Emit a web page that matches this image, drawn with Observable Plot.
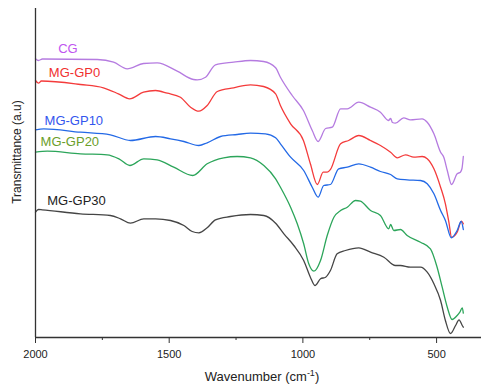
<!DOCTYPE html>
<html>
<head>
<meta charset="utf-8">
<script src="https://cdn.jsdelivr.net/npm/d3@7"></script>
<script src="https://cdn.jsdelivr.net/npm/@observablehq/plot@0.6"></script>
<style>
  html, body { margin: 0; padding: 0; background: #fff; }
  #chart { width: 481px; height: 385px; }
</style>
</head>
<body>
<div id="chart"></div>
<script>
// Spectra: [wavenumber (cm-1), transmittance (a.u., offset)]
const CG = [[2000,278.7],[1989,277],[1974,278.5],[1769,278],[1708,275.3],[1657,268.7],[1596,274],[1545,274.7],[1470,266.3],[1409,258],[1395,257.7],[1364,260.3],[1327,272.7],[1259,275.3],[1196,277],[1147,276],[1102,269.7],[1084,260.3],[1040,242],[998,227],[965,207],[943,196],[915,209],[890,210.3],[859,228.7],[834,228.7],[791,235.3],[747,230.3],[710,225.3],[680,217],[672,219],[665,215],[654,214.3],[623,219.7],[598,217.7],[554,218.7],[535,215.3],[510,203.7],[485,185.3],[473,180.3],[460,167],[444,153],[423,163.7],[411,165.3],[405,169],[400,181]];
const GP0 = [[2000,257],[1989,254.3],[1978,256.5],[1832,253],[1746,249.7],[1690,243.7],[1648,238.7],[1596,245.3],[1551,247],[1507,244.3],[1458,240.3],[1420,230.3],[1389,226.3],[1358,232],[1320,246],[1259,249.7],[1196,252.7],[1147,251],[1102,243.7],[1084,232],[1046,213.7],[998,197],[972,173.7],[946,153],[924,165.3],[909,165.3],[897,168],[859,193.7],[829,197],[791,202],[747,197],[710,192],[672,185.3],[647,179.7],[616,182.7],[585,180.3],[554,181],[535,178.7],[510,168.7],[485,150.3],[467,133.7],[454,115.3],[444,100.3],[423,105.3],[407,116.3],[400,113.7]];
const GP10 = [[2000,207.7],[1969,208.7],[1832,205.3],[1720,202.7],[1645,197],[1551,201],[1495,198.7],[1445,196],[1389,192],[1358,194.7],[1308,201],[1246,203],[1196,204.3],[1140,203.7],[1102,199.7],[1084,193.7],[1046,180.3],[997,167],[965,150.3],[943,140.3],[922,152],[897,153],[866,168.7],[834,170.3],[791,173.7],[747,170.3],[710,166],[672,163],[647,158.7],[610,157.7],[560,157],[535,153.7],[510,143.7],[485,127],[467,117],[445,99.7],[423,107],[408,116],[400,108]];
const GP20 = [[2000,185.3],[1956,186.3],[1832,183.7],[1732,182.7],[1688,178.7],[1647,172],[1595,178.7],[1545,177.7],[1483,170.3],[1412,162],[1358,173.7],[1296,179.7],[1246,181],[1196,179.7],[1146,172],[1102,158.7],[1084,150.3],[1046,130.3],[1021,113.7],[997,93.7],[978,73.7],[959,66.3],[934,77],[909,102],[884,120.3],[859,127],[834,130.3],[803,137],[785,136.3],[747,127],[710,122],[679,108.7],[672,113],[660,107],[635,108],[610,102],[560,95.3],[523,88.7],[498,70.3],[479,50.3],[460,30.3],[442,18],[423,22],[413,25.3],[404,29.7],[400,24.3]];
const GP30 = [[2000,125.3],[1989,128],[1975,127.7],[1832,123.7],[1720,122],[1682,118.7],[1645,114.3],[1595,118.7],[1551,118.7],[1495,117],[1445,112],[1414,106],[1389,104.7],[1358,109.7],[1327,117.7],[1271,121],[1196,123],[1146,122],[1102,114.3],[1071,103.7],[1034,92],[997,77],[972,60.3],[955,52],[934,58.7],[915,60.3],[897,67],[872,83.7],[841,87],[791,89.7],[747,85.3],[697,80.3],[654,72],[635,72],[598,70.3],[560,70.3],[535,65.3],[510,53.7],[485,37],[467,17],[448,4],[429,12],[416,17.7],[404,12],[400,10.3]];

const seriesNames = ["CG", "MG-GP0", "MG-GP10", "MG-GP20", "MG-GP30"];
const seriesData = [CG, GP0, GP10, GP20, GP30];
const lineColors = ["#b57be0", "#f43b3b", "#2369e6", "#2ca55a", "#454545"];
const labelColors = ["#c055f0", "#f03030", "#3355ee", "#6a9e2a", "#222222"];
const labelX = [1915, 1950, 1966, 1981, 1956];
const labelY = [288.7, 264.3, 217, 196, 136.3];

const majorTicks = [2000, 1500, 1000, 500];
const minorTicks = [1750, 1250, 750];
const xTitle = "Wavenumber (cm";
const xTitleSup = "-1";
const yTitle = "Transmittance (a.u)";

const font = "'Liberation Sans', Arial, sans-serif";
const axisColor = "#333";

const lineMarks = seriesData.map((d, i) =>
  Plot.line(d, {x: p => p[0], y: p => p[1], stroke: lineColors[i], strokeWidth: 1.3, curve: "monotone-x"})
);

const labels = seriesNames.map((n, i) => ({name: n, x: labelX[i], y: labelY[i], c: labelColors[i]}));

const chart = Plot.plot({
  width: 481,
  height: 385,
  marginLeft: 35,
  marginRight: 0,
  marginTop: 8,
  marginBottom: 48,
  style: {fontFamily: font, background: "#fff", overflow: "visible"},
  x: {domain: [2000, 332]},
  y: {domain: [0, 329], axis: null},
  marks: [
    ...lineMarks,
    Plot.text(labels, {x: "x", y: "y", text: "name", fill: "c", textAnchor: "start", fontSize: 13}),
    Plot.ruleY([0], {stroke: axisColor, strokeWidth: 1.3}),
    Plot.ruleX([2000], {stroke: axisColor, strokeWidth: 1.3}),
    Plot.axisX(majorTicks, {tickSize: 6, tickPadding: 7, fontSize: 11, stroke: axisColor, color: "#222", label: null, tickFormat: d => String(d)}),
    Plot.axisX(minorTicks, {tickSize: 3, tickFormat: () => "", stroke: axisColor, label: null})
  ]
});

const svg = d3.select(chart);
const t = svg.append("text")
  .attr("x", 262).attr("y", 381)
  .attr("text-anchor", "middle")
  .attr("font-family", font).attr("font-size", 13).attr("fill", "#222");
t.append("tspan").text(xTitle);
t.append("tspan").attr("dy", -5).attr("font-size", 9).text(xTitleSup);
t.append("tspan").attr("dy", 5).text(")");

svg.append("text")
  .attr("transform", "translate(21,152) rotate(-90)")
  .attr("text-anchor", "middle")
  .attr("font-family", font).attr("font-size", 12).attr("fill", "#222")
  .text(yTitle);

document.getElementById("chart").appendChild(chart);
</script>
</body>
</html>
